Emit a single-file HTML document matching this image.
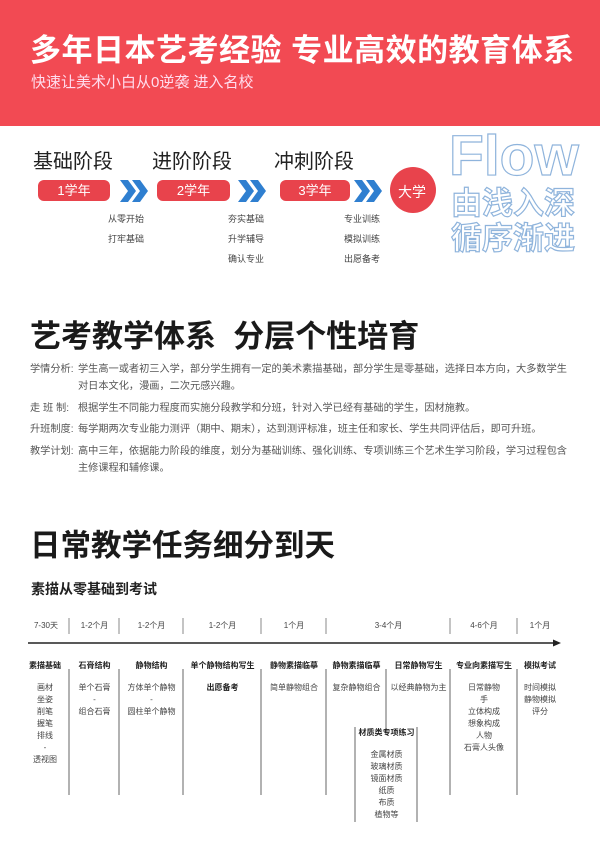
<!DOCTYPE html>
<html><head><meta charset="utf-8"><style>
body{margin:0;width:600px;height:844px;position:relative;background:#fff;font-family:"Liberation Sans","Noto Sans CJK SC",sans-serif;overflow:hidden;color:#333}
.a{position:absolute;white-space:nowrap}
.hdr{position:absolute;left:0;top:0;width:600px;height:126px;background:#f24a53}
.pill{position:absolute;height:21px;background:#e8434c;border-radius:6px;color:#fff;font-size:13px;line-height:21px;text-align:center}
.st{font-size:20px;color:#222}
.sm{font-size:9px;color:#444}
.p{font-size:10.2px;color:#555;line-height:17px}
.c{position:absolute;text-align:center;font-size:8px;color:#444;line-height:12px;white-space:nowrap}
.h{font-weight:bold;color:#222}
.fl{-webkit-text-stroke:1.2px #8fb4dc;color:#fff;font-weight:bold;font-family:"Liberation Sans","Noto Sans CJK SC",sans-serif}
</style></head><body>
<div class="hdr"></div>
<div class="a" style="left:30px;top:25px;font-size:31px;font-weight:bold;color:#fff;letter-spacing:0.5px">多年日本艺考经验 专业高效的教育体系</div>
<div class="a" style="left:31px;top:71px;font-size:15px;color:#fde">快速让美术小白从0逆袭 进入名校</div>

<div class="a st" style="left:33px;top:145px">基础阶段</div>
<div class="a st" style="left:152px;top:145px">进阶阶段</div>
<div class="a st" style="left:274px;top:145px">冲刺阶段</div>
<div class="pill" style="left:38px;top:180px;width:72px">1学年</div>
<div class="pill" style="left:157px;top:180px;width:73px">2学年</div>
<div class="pill" style="left:280px;top:180px;width:70px">3学年</div>
<svg class="a" style="left:0;top:0" width="600" height="300">
<g fill="#2f7fd0">
<polygon points="120,180 128,180 136,191 128,202 120,202 128,191"/><polygon points="132,180 140,180 148,191 140,202 132,202 140,191"/>
<polygon points="238,180 246,180 254,191 246,202 238,202 246,191"/><polygon points="250,180 258,180 266,191 258,202 250,202 258,191"/>
<polygon points="354,180 362,180 370,191 362,202 354,202 362,191"/><polygon points="366,180 374,180 382,191 374,202 366,202 374,191"/>
</g>
<circle cx="413" cy="190" r="23" fill="#e8434c"/>
</svg>
<div class="a" style="left:398px;top:182px;color:#fff;font-size:14px">大学</div>
<div class="a sm" style="left:108px;top:212px">从零开始</div>
<div class="a sm" style="left:108px;top:232px">打牢基础</div>
<div class="a sm" style="left:228px;top:212px">夯实基础</div>
<div class="a sm" style="left:228px;top:232px">升学辅导</div>
<div class="a sm" style="left:228px;top:252px">确认专业</div>
<div class="a sm" style="left:344px;top:212px">专业训练</div>
<div class="a sm" style="left:344px;top:232px">模拟训练</div>
<div class="a sm" style="left:344px;top:252px">出愿备考</div>
<div class="a fl" style="left:449px;top:126px;font-size:57px;line-height:60px">Flow</div>
<div class="a fl" style="left:451px;top:187px;font-size:31px;line-height:34px">由浅入深</div>
<div class="a fl" style="left:451px;top:222px;font-size:31px;line-height:34px">循序渐进</div>

<div class="a" style="left:30px;top:311px;font-size:31px;font-weight:bold;color:#1a1a1a">艺考教学体系&nbsp; 分层个性培育</div>
<div class="a p" style="left:30px;top:361px">学情分析:</div>
<div class="a p" style="left:78px;top:361px">学生高一或者初三入学，部分学生拥有一定的美术素描基础，部分学生是零基础，选择日本方向，大多数学生</div>
<div class="a p" style="left:78px;top:378px">对日本文化，漫画，二次元感兴趣。</div>
<div class="a p" style="left:30px;top:400px">走 班 制:</div>
<div class="a p" style="left:78px;top:400px">根据学生不同能力程度而实施分段教学和分班，针对入学已经有基础的学生，因材施教。</div>
<div class="a p" style="left:30px;top:421px">升班制度:</div>
<div class="a p" style="left:78px;top:421px">每学期两次专业能力测评（期中、期末），达到测评标准，班主任和家长、学生共同评估后，即可升班。</div>
<div class="a p" style="left:30px;top:443px">教学计划:</div>
<div class="a p" style="left:78px;top:443px">高中三年，依据能力阶段的维度，划分为基础训练、强化训练、专项训练三个艺术生学习阶段，学习过程包含</div>
<div class="a p" style="left:78px;top:460px">主修课程和辅修课。</div>

<div class="a" style="left:30px;top:521px;font-size:30.5px;font-weight:bold;color:#1a1a1a">日常教学任务细分到天</div>
<div class="a" style="left:31px;top:579px;font-size:14px;font-weight:bold;color:#222">素描从零基础到考试</div>

<svg class="a" style="left:0;top:600px" width="600" height="244">
<line x1="28" y1="43" x2="556" y2="43" stroke="#222" stroke-width="1.5"/>
<polygon points="561,43 553,39.5 553,46.5" fill="#222"/>
<g stroke="#888" stroke-width="1">
<line x1="69" y1="18" x2="69" y2="34"/><line x1="119" y1="18" x2="119" y2="34"/><line x1="183" y1="18" x2="183" y2="34"/><line x1="261" y1="18" x2="261" y2="34"/><line x1="326" y1="18" x2="326" y2="34"/><line x1="450" y1="18" x2="450" y2="34"/><line x1="517" y1="18" x2="517" y2="34"/>
</g>
<g stroke="#666" stroke-width="1">
<line x1="69" y1="69" x2="69" y2="195"/><line x1="119" y1="69" x2="119" y2="195"/><line x1="183" y1="69" x2="183" y2="195"/><line x1="261" y1="69" x2="261" y2="195"/><line x1="326" y1="69" x2="326" y2="195"/><line x1="450" y1="69" x2="450" y2="195"/><line x1="517" y1="69" x2="517" y2="195"/>
<line x1="386" y1="69" x2="386" y2="134"/>
<line x1="355" y1="127" x2="355" y2="222"/><line x1="417" y1="127" x2="417" y2="222"/>
</g>
</svg>
<div class="c" style="left:30px;width:32px;top:620px">7-30天</div>
<div class="c" style="left:70px;width:49px;top:620px">1-2个月</div>
<div class="c" style="left:120px;width:63px;top:620px">1-2个月</div>
<div class="c" style="left:184px;width:77px;top:620px">1-2个月</div>
<div class="c" style="left:262px;width:64px;top:620px">1个月</div>
<div class="c" style="left:327px;width:123px;top:620px">3-4个月</div>
<div class="c" style="left:451px;width:66px;top:620px">4-6个月</div>
<div class="c" style="left:518px;width:44px;top:620px">1个月</div>

<div class="c h" style="left:24px;width:42px;top:660px">素描基础</div>
<div class="c" style="left:24px;width:42px;top:682px">画材<br>坐姿<br>削笔<br>握笔<br>排线<br>-<br>透视图</div>
<div class="c h" style="left:70px;width:49px;top:660px">石膏结构</div>
<div class="c" style="left:70px;width:49px;top:682px">单个石膏<br>-<br>组合石膏</div>
<div class="c h" style="left:120px;width:63px;top:660px">静物结构</div>
<div class="c" style="left:120px;width:63px;top:682px">方体单个静物<br>-<br>圆柱单个静物</div>
<div class="c h" style="left:184px;width:77px;top:660px">单个静物结构写生</div>
<div class="c h" style="left:184px;width:77px;top:682px">出愿备考</div>
<div class="c h" style="left:262px;width:64px;top:660px">静物素描临摹</div>
<div class="c" style="left:262px;width:64px;top:682px">简单静物组合</div>
<div class="c h" style="left:327px;width:59px;top:660px">静物素描临摹</div>
<div class="c" style="left:327px;width:59px;top:682px">复杂静物组合</div>
<div class="c h" style="left:387px;width:63px;top:660px">日常静物写生</div>
<div class="c" style="left:387px;width:63px;top:682px">以经典静物为主</div>
<div class="c h" style="left:356px;width:61px;top:727px">材质类专项练习</div>
<div class="c" style="left:356px;width:61px;top:749px">金属材质<br>玻璃材质<br>镜面材质<br>纸质<br>布质<br>植物等</div>
<div class="c h" style="left:451px;width:66px;top:660px">专业向素描写生</div>
<div class="c" style="left:451px;width:66px;top:682px">日常静物<br>手<br>立体构成<br>想象构成<br>人物<br>石膏人头像</div>
<div class="c h" style="left:518px;width:44px;top:660px">模拟考试</div>
<div class="c" style="left:518px;width:44px;top:682px">时间模拟<br>静物模拟<br>评分</div>
</body></html>
